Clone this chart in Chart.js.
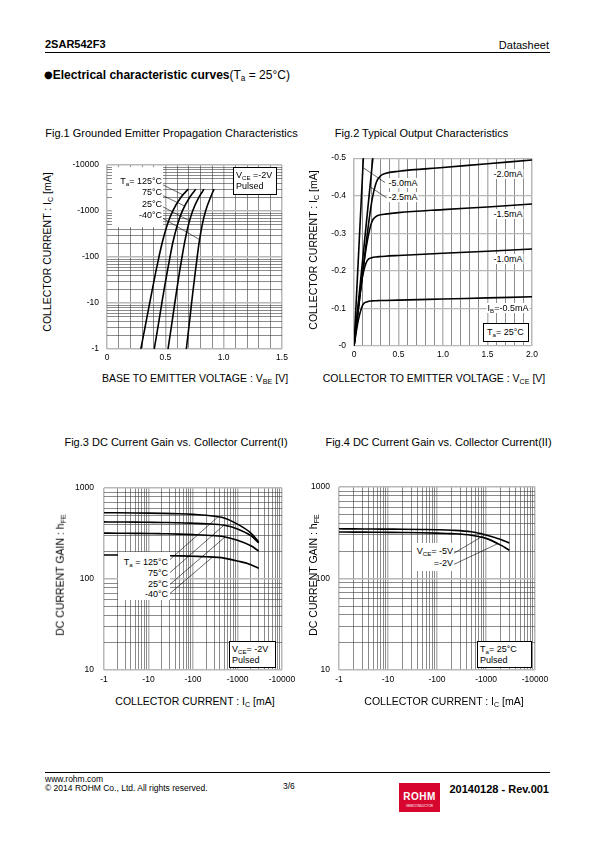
<!DOCTYPE html>
<html><head><meta charset="utf-8">
<script src="https://cdn.jsdelivr.net/npm/chart.js@4.4.1/dist/chart.umd.min.js"></script>
<style>
html,body{margin:0;padding:0;background:#fff}
body{width:595px;height:842px;position:relative;overflow:hidden;font-family:"Liberation Sans",Arial,sans-serif;color:#000}
.t{position:absolute;white-space:nowrap;line-height:1}
canvas{position:absolute}
.c{transform:translate(-50%,-50%)}
.r90{transform:translate(-50%,-50%) rotate(-90deg)}
.lb{position:absolute;white-space:nowrap;background:#fff;font-size:9px;line-height:10px;padding:0 1px;transform:translate(-50%,-50%)}
.bx{position:absolute;background:#fff}
.bb{position:absolute;background:#fff;border:1px solid #000;box-sizing:border-box;font-size:9px;line-height:11px;padding:2px 0 0 2px;white-space:nowrap}
sub{font-size:0.68em;vertical-align:baseline;position:relative;top:0.3em;line-height:0}
.hl{position:absolute;height:1px;background:#000}
</style></head><body>

<div class="t" style="left:45px;top:39px;font-size:11px;font-weight:bold">2SAR542F3</div>
<div class="t" style="right:46px;top:40px;font-size:11px">Datasheet</div>
<div class="hl" style="left:45px;top:52px;width:505px"></div>
<div class="t" style="left:44px;top:69px;font-size:12px"><b><span style="font-family:'DejaVu Sans';font-size:10px;position:relative;top:-1px">●</span>Electrical characteristic curves</b>(T<sub>a</sub> = 25°C)</div>

<div class="t c" style="left:171.5px;top:133px;font-size:11px">Fig.1 Grounded Emitter Propagation Characteristics</div>
<div class="t c" style="left:421.5px;top:133px;font-size:11px">Fig.2 Typical Output Characteristics</div>
<div class="t c" style="left:176px;top:442px;font-size:11px">Fig.3 DC Current Gain vs. Collector Current(I)</div>
<div class="t c" style="left:438.5px;top:442px;font-size:11px">Fig.4 DC Current Gain vs. Collector Current(II)</div>

<canvas id="c1"></canvas>
<canvas id="c2"></canvas>
<canvas id="c3"></canvas>
<canvas id="c4"></canvas>

<div class="t c" style="left:195px;top:378px;font-size:10.5px">BASE TO EMITTER VOLTAGE : V<sub>BE</sub> [V]</div>
<div class="t c" style="left:434px;top:378px;font-size:10.5px">COLLECTOR TO EMITTER VOLTAGE : V<sub>CE</sub> [V]</div>
<div class="t c" style="left:195px;top:701px;font-size:10.5px">COLLECTOR CURRENT : I<sub>C</sub> [mA]</div>
<div class="t c" style="left:444px;top:701px;font-size:10.5px">COLLECTOR CURRENT : I<sub>C</sub> [mA]</div>
<div class="t r90" style="left:47px;top:252px;font-size:10.5px">COLLECTOR CURRENT : I<sub>C</sub> [mA]</div>
<div class="t r90" style="left:313px;top:250px;font-size:10.5px">COLLECTOR CURRENT : I<sub>C</sub> [mA]</div>
<div class="t r90" style="left:60px;top:575px;font-size:10.5px">DC CURRENT GAIN : h<sub>FE</sub></div>
<div class="t r90" style="left:313px;top:575px;font-size:10.5px">DC CURRENT GAIN : h<sub>FE</sub></div>

<!-- Fig.1 annotations -->
<div class="bx" style="left:112px;top:167px;width:51px;height:60px"></div>
<div class="t" style="right:433px;top:177px;font-size:9px">T<sub>a</sub>= 125°C</div>
<div class="t" style="right:433px;top:188px;font-size:9px">75°C</div>
<div class="t" style="right:433px;top:199.5px;font-size:9px">25°C</div>
<div class="t" style="right:433px;top:211px;font-size:9px">-40°C</div>
<div class="bb" style="left:233px;top:167px;width:44px;height:28px">V<sub>CE</sub> =-2V<br>Pulsed</div>

<!-- Fig.2 annotations -->
<div class="lb" style="left:508px;top:174px">-2.0mA</div>
<div class="lb" style="left:508px;top:214px">-1.5mA</div>
<div class="lb" style="left:508px;top:258.5px">-1.0mA</div>
<div class="lb" style="left:508px;top:308px">I<sub>B</sub>=-0.5mA</div>
<div class="lb" style="left:403px;top:182.5px">-5.0mA</div>
<div class="lb" style="left:403px;top:197px">-2.5mA</div>
<div class="bb" style="left:483px;top:323px;width:46px;height:19px;padding:3px 0 0 3px">T<sub>a</sub>= 25°C</div>

<!-- Fig.3 annotations -->
<div class="bx" style="left:118px;top:552px;width:52px;height:48px"></div>
<div class="t" style="right:427px;top:558px;font-size:9px">T<sub>a</sub> = 125°C</div>
<div class="t" style="right:427px;top:569px;font-size:9px">75°C</div>
<div class="t" style="right:427px;top:579.5px;font-size:9px">25°C</div>
<div class="t" style="right:427px;top:590px;font-size:9px">-40°C</div>
<div class="bb" style="left:229px;top:641px;width:47px;height:27px">V<sub>CE</sub>= -2V<br>Pulsed</div>

<!-- Fig.4 annotations -->
<div class="bx" style="left:412px;top:543px;width:42px;height:28px"></div>
<div class="t" style="right:142px;top:547px;font-size:9px">V<sub>CE</sub>= -5V</div>
<div class="t" style="right:142px;top:558.5px;font-size:9px">=-2V</div>
<div class="bb" style="left:477px;top:641px;width:55px;height:27px">T<sub>a</sub>= 25°C<br>Pulsed</div>

<!-- Footer -->
<div class="hl" style="left:45px;top:772px;width:505px"></div>
<div class="t" style="left:45px;top:775px;font-size:8.5px">www.rohm.com</div>
<div class="t" style="left:45px;top:784px;font-size:8.5px">© 2014 ROHM Co., Ltd. All rights reserved.</div>
<div class="t" style="left:283px;top:782px;font-size:8.5px">3/6</div>
<div style="position:absolute;left:399px;top:783px;width:41px;height:29px;background:#d7062f"></div>
<div class="t c" style="left:419.5px;top:797px;font-size:10px;font-weight:bold;color:#fff;letter-spacing:0.5px">ROHM</div>
<div class="t c" style="left:419.5px;top:806px;font-size:3px;color:#fff">SEMICONDUCTOR</div>
<div class="t" style="right:46px;top:784px;font-size:11px;font-weight:bold">20140128 - Rev.001</div>

<script>
// ---------- Fig.1 : Grounded Emitter Propagation (VBE [V] vs IC [mA]) ----------
const fig1IcmA   = [1, 2, 5, 10, 20, 50, 100, 200, 500, 1000, 2000, 3000];
const fig1Vbe125 = [0.290, 0.313, 0.343, 0.366, 0.389, 0.420, 0.445, 0.472, 0.516, 0.563, 0.634, 0.697];
const fig1Vbe75  = [0.405, 0.425, 0.451, 0.470, 0.490, 0.518, 0.540, 0.563, 0.603, 0.645, 0.709, 0.762];
const fig1Vbe25  = [0.523, 0.541, 0.564, 0.581, 0.599, 0.623, 0.643, 0.664, 0.698, 0.734, 0.788, 0.832];
const fig1VbeM40 = [0.680, 0.694, 0.712, 0.725, 0.739, 0.758, 0.773, 0.789, 0.816, 0.845, 0.888, 0.918];
const fig1XTickValues = [0, 0.5, 1.0, 1.5];
const fig1XTickLabels = ['0', '0.5', '1.0', '1.5'];
const fig1YTickValues = [1, 10, 100, 1000, 10000];
const fig1YTickLabels = ['-1', '-10', '-100', '-1000', '-10000'];
const fig1XGrid = [0,0.1,0.2,0.3,0.4,0.5,0.6,0.7,0.8,0.9,1.0,1.1,1.2,1.3,1.4,1.5];

// ---------- Fig.2 : Typical Output (VCE [V] vs IC [mA]) ----------
const fig2Vce    = [0, 0.05, 0.1, 0.15, 0.2, 0.25, 0.3, 0.35, 0.5, 1.0, 1.5, 2.0];
const fig2Ib05   = [0, 0.070, 0.110, 0.118, 0.120, 0.1205, 0.121, 0.1212, 0.122, 0.125, 0.128, 0.131];
const fig2Ib10   = [0, 0.110, 0.190, 0.228, 0.235, 0.237, 0.238, 0.239, 0.241, 0.247, 0.252, 0.258];
const fig2Ib15   = [0, 0.100, 0.200, 0.280, 0.330, 0.345, 0.349, 0.351, 0.355, 0.363, 0.370, 0.378];
const fig2Ib20   = [0, 0.100, 0.200, 0.300, 0.385, 0.435, 0.453, 0.459, 0.465, 0.475, 0.485, 0.495];
const fig2Vce25  = [0, 0.212];
const fig2Ib25   = [0, 0.500];
const fig2Vce50  = [0, 0.105];
const fig2Ib50   = [0, 0.500];
const fig2XTickValues = [0, 0.5, 1.0, 1.5, 2.0];
const fig2XTickLabels = ['0', '0.5', '1.0', '1.5', '2.0'];
const fig2YTickValues = [0, 0.1, 0.2, 0.3, 0.4, 0.5];
const fig2YTickLabels = ['-0', '-0.1', '-0.2', '-0.3', '-0.4', '-0.5'];
const fig2XGrid = [0,0.1,0.2,0.3,0.4,0.5,0.6,0.7,0.8,0.9,1.0,1.1,1.2,1.3,1.4,1.5,1.6,1.7,1.8,1.9,2.0];

// ---------- Fig.3 : DC current gain vs IC, by temperature ----------
const fig3IcmA  = [1, 2, 5, 10, 20, 50, 100, 200, 500, 1000, 2000, 3000];
const fig3Hfe125 = [536, 535, 533, 531, 528, 522, 514, 502, 470, 402, 320, 256];
const fig3Hfe75  = [425, 424, 423, 421, 419, 416, 411, 405, 390, 356, 300, 250];
const fig3Hfe25  = [320, 319, 318, 317, 315, 312, 308, 303, 292, 267, 232, 203];
const fig3HfeM40 = [184, 184, 183, 182, 181, 180, 178, 176, 170, 158, 144, 131];

// ---------- Fig.4 : DC current gain vs IC, by VCE ----------
const fig4IcmA  = [1, 2, 5, 10, 20, 50, 100, 200, 500, 1000, 2000, 3000];
const fig4Hfe5V = [350, 349, 348, 347, 346, 344, 342, 338, 325, 300, 268, 245];
const fig4Hfe2V = [323, 322, 321, 320, 319, 317, 314, 310, 298, 275, 232, 204];

const hfeXTickValues = [1, 10, 100, 1000, 10000];
const hfeXTickLabels = ['-1', '-10', '-100', '-1000', '-10000'];
const hfeYTickValues = [10, 100, 1000];
const hfeYTickLabels = ['10', '100', '1000'];
const logGridIc  = [1,2,3,4,5,6,7,8,9,10,20,30,40,50,60,70,80,90,100,200,300,400,500,600,700,800,900,1000,2000,3000,4000,5000,6000,7000,8000,9000,10000];
const logGridHfe = [10,20,30,40,50,60,70,80,90,100,200,300,400,500,600,700,800,900,1000];

// ---------- annotation leader lines (data coords: x1,y1,x2,y2) ----------
const fig1Leaders = [[0.477,3740,0.645,2290],[0.477,2180,0.665,1290],[0.477,1250,0.705,617],[0.477,700,0.793,240]];
const fig2Leaders = [[0.348,0.435,0.100,0.475],[0.367,0.394,0.180,0.424]];
const fig3Leaders = [[30,163,361,481],[30,117,494,390],[30,87,529,291],[30,69,273,174]];
const fig4Leaders = [[216,187.5,950,301],[216,142,1720,240]];

const near = (a, b) => Math.abs(a - b) <= 1e-9 * Math.max(1, Math.abs(b));
function labelFor(vals, labels, v) {
  const i = vals.findIndex(t => near(v, t));
  return i < 0 ? '' : labels[i];
}

const leaderPlugin = {
  id: 'leaders',
  afterDatasetsDraw(chart, args, opts) {
    const ctx = chart.ctx, x = chart.scales.x, y = chart.scales.y;
    ctx.save();
    ctx.strokeStyle = '#000';
    ctx.lineWidth = 0.6;
    for (const l of (opts.lines || [])) {
      ctx.beginPath();
      ctx.moveTo(x.getPixelForValue(l[0]), y.getPixelForValue(l[1]));
      ctx.lineTo(x.getPixelForValue(l[2]), y.getPixelForValue(l[3]));
      ctx.stroke();
    }
    ctx.restore();
  }
};

function axis(o, isX, P) {
  return {
    type: o.type, min: o.min, max: o.max,
    afterBuildTicks: s => { s.ticks = o.grid.map(v => ({ value: v })); },
    afterFit: s => { if (isX) s.height = P.xh; else s.width = P.yw; },
    ticks: {
      autoSkip: false, maxRotation: 0, minRotation: 0, padding: o.pad, color: '#000',
      font: { family: 'Liberation Sans', size: 8.5 },
      callback: v => labelFor(o.tv, o.tl, v)
    },
    grid: {
      drawTicks: false,
      color: c => o.isMajor(c.tick.value) ? o.majorColor : o.minorColor,
      lineWidth: c => o.isMajor(c.tick.value) ? o.majorWidth : o.minorWidth
    },
    border: { display: false }
  };
}

function build(id, P, xo, yo, series, leaders) {
  const cv = document.getElementById(id);
  const padT = 10, padR = 20;
  const W = (P.r - P.l) + P.yw + padR, H = (P.b - P.t) + padT + P.xh;
  cv.width = W; cv.height = H;
  cv.style.width = W + 'px'; cv.style.height = H + 'px';
  cv.style.left = (P.l - P.yw) + 'px'; cv.style.top = (P.t - padT) + 'px';
  return new Chart(cv, {
    type: 'scatter',
    data: {
      datasets: series.map(s => ({
        data: s.x.map((v, i) => ({ x: v, y: s.y[i] })),
        showLine: true, borderColor: '#000', borderWidth: 1.6, pointRadius: 0,
        cubicInterpolationMode: 'monotone', fill: false
      }))
    },
    options: {
      responsive: false, animation: false, devicePixelRatio: 1,
      layout: { padding: { top: padT, right: padR, left: 0, bottom: 0 } },
      plugins: { legend: { display: false }, tooltip: { enabled: false }, leaders: { lines: leaders } },
      scales: { x: axis(xo, true, P), y: axis(yo, false, P) }
    },
    plugins: [leaderPlugin]
  });
}

const isDecade = v => near(Math.log10(v), Math.round(Math.log10(v)));
const isHalf = v => near(v * 2, Math.round(v * 2));
const majC = '#b8b8b8', minC = '#3c3c3c';

// Fig.1
build('c1', { l: 107, t: 162, r: 282, b: 349, yw: 45, xh: 22 },
  { type: 'linear', min: 0, max: 1.5, grid: fig1XGrid, tv: fig1XTickValues, tl: fig1XTickLabels, pad: 4,
    isMajor: isHalf, majorColor: majC, minorColor: minC, majorWidth: 1.5, minorWidth: 0.6 },
  { type: 'logarithmic', min: 1, max: 10000, grid: logGridIc, tv: fig1YTickValues, tl: fig1YTickLabels, pad: 8,
    isMajor: isDecade, majorColor: majC, minorColor: minC, majorWidth: 1.5, minorWidth: 0.6 },
  [ { x: fig1Vbe125, y: fig1IcmA }, { x: fig1Vbe75, y: fig1IcmA }, { x: fig1Vbe25, y: fig1IcmA }, { x: fig1VbeM40, y: fig1IcmA } ],
  fig1Leaders);

// Fig.2
build('c2', { l: 354, t: 155, r: 532, b: 346, yw: 45, xh: 22 },
  { type: 'linear', min: 0, max: 2.0, grid: fig2XGrid, tv: fig2XTickValues, tl: fig2XTickLabels, pad: 4,
    isMajor: isHalf, majorColor: majC, minorColor: minC, majorWidth: 1.5, minorWidth: 0.6 },
  { type: 'linear', min: 0, max: 0.5, grid: fig2YTickValues, tv: fig2YTickValues, tl: fig2YTickLabels, pad: 8,
    isMajor: () => true, majorColor: majC, minorColor: minC, majorWidth: 1.2, minorWidth: 0.6 },
  [ { x: fig2Vce, y: fig2Ib05 }, { x: fig2Vce, y: fig2Ib10 }, { x: fig2Vce, y: fig2Ib15 }, { x: fig2Vce, y: fig2Ib20 },
    { x: fig2Vce25, y: fig2Ib25 }, { x: fig2Vce50, y: fig2Ib50 } ],
  fig2Leaders);

// Fig.3
build('c3', { l: 104, t: 483, r: 282, b: 670, yw: 45, xh: 22 },
  { type: 'logarithmic', min: 1, max: 10000, grid: logGridIc, tv: hfeXTickValues, tl: hfeXTickLabels, pad: 5,
    isMajor: isDecade, majorColor: majC, minorColor: minC, majorWidth: 1.5, minorWidth: 0.6 },
  { type: 'logarithmic', min: 10, max: 1000, grid: logGridHfe, tv: hfeYTickValues, tl: hfeYTickLabels, pad: 10,
    isMajor: isDecade, majorColor: majC, minorColor: minC, majorWidth: 1.5, minorWidth: 0.6 },
  [ { x: fig3IcmA, y: fig3Hfe125 }, { x: fig3IcmA, y: fig3Hfe75 }, { x: fig3IcmA, y: fig3Hfe25 }, { x: fig3IcmA, y: fig3HfeM40 } ],
  fig3Leaders);

// Fig.4
build('c4', { l: 339, t: 483, r: 535, b: 670, yw: 45, xh: 22 },
  { type: 'logarithmic', min: 1, max: 10000, grid: logGridIc, tv: hfeXTickValues, tl: hfeXTickLabels, pad: 5,
    isMajor: isDecade, majorColor: majC, minorColor: minC, majorWidth: 1.5, minorWidth: 0.6 },
  { type: 'logarithmic', min: 10, max: 1000, grid: logGridHfe, tv: hfeYTickValues, tl: hfeYTickLabels, pad: 9,
    isMajor: isDecade, majorColor: majC, minorColor: minC, majorWidth: 1.5, minorWidth: 0.6 },
  [ { x: fig4IcmA, y: fig4Hfe5V }, { x: fig4IcmA, y: fig4Hfe2V } ],
  fig4Leaders);
</script>
</body></html>
